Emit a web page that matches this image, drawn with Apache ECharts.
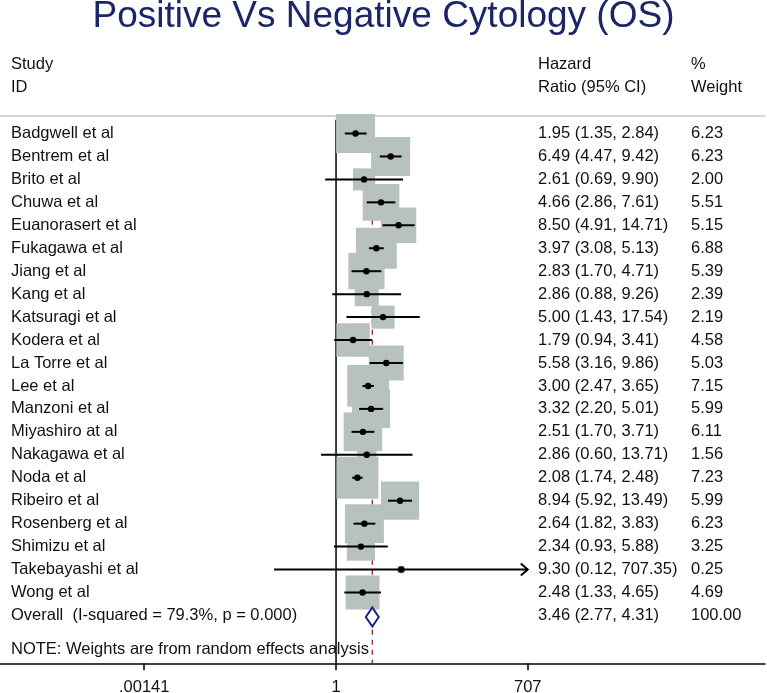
<!DOCTYPE html>
<html>
<head>
<meta charset="utf-8">
<script src="https://cdn.jsdelivr.net/npm/echarts@6/dist/echarts.min.js"></script>
<style>
html,body{margin:0;padding:0;background:#fff;}
#main{width:767px;height:693px;}
</style>
</head>
<body>
<div id="main"></div>
<script>
// ---- data ----
const studies = ['Badgwell et al','Bentrem et al','Brito et al','Chuwa et al','Euanorasert et al','Fukagawa et al','Jiang et al','Kang et al','Katsuragi et al','Kodera et al','La Torre et al','Lee et al','Manzoni et al','Miyashiro at al','Nakagawa et al','Noda et al','Ribeiro et al','Rosenberg et al','Shimizu et al','Takebayashi et al','Wong et al'];
const hr     = [1.95,6.49,2.61,4.66,8.50,3.97,2.83,2.86,5.00,1.79,5.58,3.00,3.32,2.51,2.86,2.08,8.94,2.64,2.34,9.30,2.48];
const ciLow  = [1.35,4.47,0.69,2.86,4.91,3.08,1.70,0.88,1.43,0.94,3.16,2.47,2.20,1.70,0.60,1.74,5.92,1.82,0.93,0.12,1.33];
const ciHigh = [2.84,9.42,9.90,7.61,14.71,5.13,4.71,9.26,17.54,3.41,9.86,3.65,5.01,3.71,13.71,2.48,13.49,3.83,5.88,707.35,4.65];
const weights = [6.23,6.23,2.00,5.51,5.15,6.88,5.39,2.39,2.19,4.58,5.03,7.15,5.99,6.11,1.56,7.23,5.99,6.23,3.25,0.25,4.69];
const overallLabel = 'Overall  (I-squared = 79.3%, p = 0.000)';
const overallHr = 3.46, overallLow = 2.77, overallHigh = 4.31, overallWeight = 100.00;
const tickValues = [0.00141, 1, 707];
const tickLabels = ['.00141', '1', '707'];
const headerStudy = ['Study', 'ID'];
const headerHr = ['Hazard', 'Ratio (95% CI)'];
const headerWeight = ['%', 'Weight'];
const noteText = 'NOTE: Weights are from random effects analysis';
const titleText = 'Positive Vs Negative Cytology (OS)';

// ---- styling constants ----
const FONT = 'Liberation Sans, Arial, Helvetica, sans-serif';
const FS = 16.5;
const TXT = '#111';
const BOX = '#b7c1be';
const BOX_K = 15.6;
const COL_STUDY = 11, COL_HR = 538, COL_W = 691;
const AXIS_MAX_HR = 707;

const lnTicks = tickValues.map(v => Math.log(v));
const rowData = studies.map((s, i) => {
  const hiClip = Math.min(ciHigh[i], AXIS_MAX_HR);
  return [Math.log(hr[i]), i, Math.log(ciLow[i]), Math.log(hiClip), weights[i], ciHigh[i] > AXIS_MAX_HR ? 1 : 0];
});
const overallRow = studies.length;

function txt(x, y, text, extra) {
  return Object.assign({
    type: 'text', x: x, y: y,
    style: { text: text, font: FS + 'px ' + FONT, fill: TXT, verticalAlign: 'middle', align: 'left' }
  }, extra || {});
}

const chart = echarts.init(document.getElementById('main'), null, {renderer: 'canvas'});
chart.setOption({
  animation: false,
  backgroundColor: '#fff',
  title: {
    text: titleText, left: 'center', top: -1.5, padding: 0,
    textStyle: { fontFamily: FONT, fontSize: 37, fontWeight: 'normal', color: '#1b2567' }
  },
  grid: { left: 0, right: 2, top: 115.7, bottom: 29.7, containLabel: false, outerBoundsMode: 'none' },
  xAxis: [{
    type: 'value', position: 'bottom', min: -11.5, max: 14.68,
    splitLine: { show: false },
    axisLine: { onZero: false, lineStyle: { color: '#000', width: 1.5 } },
    axisTick: { customValues: lnTicks, length: 7, lineStyle: { color: '#000', width: 1.5 } },
    axisLabel: {
      customValues: lnTicks, margin: 16, fontSize: FS, color: TXT, fontFamily: FONT,
      formatter: function (v) {
        let best = 0;
        lnTicks.forEach((t, k) => { if (Math.abs(t - v) < Math.abs(lnTicks[best] - v)) best = k; });
        return tickLabels[best];
      }
    }
  }, {
    type: 'value', position: 'top', min: -11.5, max: 14.68,
    splitLine: { show: false },
    axisLine: { onZero: false, lineStyle: { color: '#c8c8c8', width: 1.5 } },
    axisTick: { show: false }, axisLabel: { show: false }
  }],
  yAxis: { type: 'value', inverse: true, min: -0.776, max: 23.085, show: false },
  series: [
    {
      // reference lines: null line at HR=1 and dashed overall line
      type: 'custom', z: 1, silent: true,
      data: [[0, Math.log(overallHr)]],
      renderItem: function (params, api) {
        const nTop = api.coord([api.value(0), -0.6]);
        const nBot = api.coord([api.value(0), 23.085]);
        const oTop = api.coord([api.value(1), -0.6]);
        const oBot = api.coord([api.value(1), 23.085]);
        return { type: 'group', children: [
          { type: 'line', shape: { x1: nTop[0], y1: nTop[1], x2: nBot[0], y2: nBot[1] },
            style: { stroke: '#000', lineWidth: 1.5 } },
          { type: 'line', shape: { x1: oTop[0], y1: oTop[1], x2: oBot[0], y2: oBot[1] },
            style: { stroke: '#9b2335', lineWidth: 1.3, lineDash: [5, 5] } }
        ]};
      }
    },
    {
      type: 'custom', z: 3, silent: true,
      data: rowData,
      renderItem: function (params, api) {
        const i = params.dataIndex;
        const c = api.coord([api.value(0), api.value(1)]);
        const lo = api.coord([api.value(2), api.value(1)]);
        const hi = api.coord([api.value(3), api.value(1)]);
        const side = BOX_K * Math.sqrt(api.value(4));
        const ch = [
          { type: 'rect', z2: 1, shape: { x: c[0] - side / 2, y: c[1] - side / 2, width: side, height: side, r: side < 10 ? 2 : 0 },
            style: { fill: BOX } },
          { type: 'line', z2: 2, shape: { x1: lo[0], y1: c[1], x2: hi[0], y2: c[1] },
            style: { stroke: '#000', lineWidth: 2 } },
          { type: 'circle', z2: 3, shape: { cx: c[0], cy: c[1], r: 3.2 }, style: { fill: '#000' } },
          txt(COL_STUDY, c[1], studies[i]),
          txt(COL_HR, c[1], hr[i].toFixed(2) + ' (' + ciLow[i].toFixed(2) + ', ' + ciHigh[i].toFixed(2) + ')'),
          txt(COL_W, c[1], weights[i].toFixed(2))
        ];
        if (api.value(5)) {
          ch.push({ type: 'polyline', z2: 2,
            shape: { points: [[hi[0] - 7, c[1] - 6], [hi[0], c[1]], [hi[0] - 7, c[1] + 6]] },
            style: { stroke: '#000', lineWidth: 2, fill: null } });
        }
        return { type: 'group', children: ch };
      }
    },
    {
      type: 'custom', z: 4, silent: true,
      data: [[Math.log(overallHr), overallRow, Math.log(overallLow), Math.log(overallHigh)]],
      renderItem: function (params, api) {
        const c = api.coord([api.value(0), api.value(1)]);
        const lo = api.coord([api.value(2), api.value(1)]);
        const hi = api.coord([api.value(3), api.value(1)]);
        const h = 9.5;
        const cy = c[1] + 1.5;
        return { type: 'group', children: [
          { type: 'polygon', shape: { points: [[lo[0], cy], [c[0], cy - h], [hi[0], cy], [c[0], cy + h]] },
            style: { fill: '#fff', stroke: '#1a1f8a', lineWidth: 2 } },
          txt(COL_STUDY, c[1], overallLabel),
          txt(COL_HR, c[1], overallHr.toFixed(2) + ' (' + overallLow.toFixed(2) + ', ' + overallHigh.toFixed(2) + ')'),
          txt(COL_W, c[1], overallWeight.toFixed(2))
        ]};
      }
    },
    {
      // header rows and note
      type: 'custom', z: 2, silent: true,
      data: [[0, -3], [0, -2], [0, 22.48]],
      renderItem: function (params, api) {
        const i = params.dataIndex;
        const y = api.coord([0, api.value(1)])[1];
        if (i < 2) {
          return { type: 'group', children: [
            txt(COL_STUDY, y, headerStudy[i]),
            txt(COL_HR, y, headerHr[i]),
            txt(COL_W, y, headerWeight[i])
          ]};
        }
        return txt(COL_STUDY, y, noteText);
      }
    }
  ]
});
</script>
</body>
</html>
